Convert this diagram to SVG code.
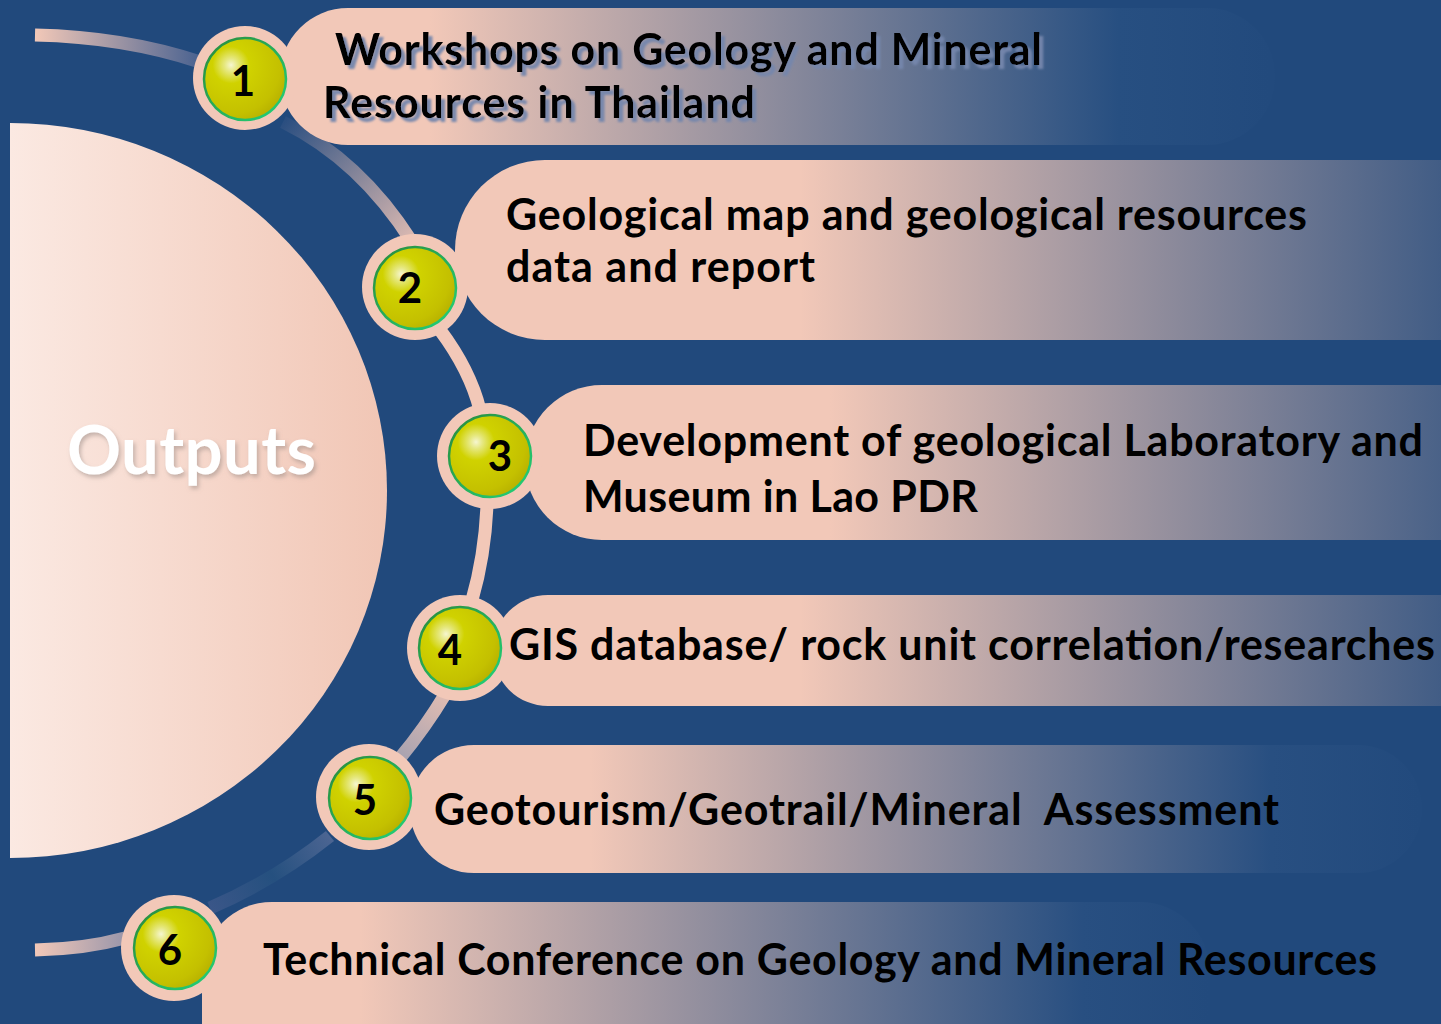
<svg xmlns="http://www.w3.org/2000/svg" width="1441" height="1024" viewBox="0 0 1441 1024">
<defs>
<style>
.t{font-family:Lato,"Open Sans","Liberation Sans",sans-serif;font-weight:bold;font-size:43px;fill:#000;}
.n{font-family:Lato,"Open Sans","Liberation Sans",sans-serif;font-weight:bold;font-size:42px;fill:#000;text-anchor:middle;}
.ring{fill:#f2c8b8;}
.ball{fill:url(#ballG);stroke:url(#ballS);stroke-width:2.5;}
.seg{fill:none;stroke-width:13;stroke-linecap:butt;}
</style>
<linearGradient id="halfG" x1="0" y1="0" x2="1" y2="0">
<stop offset="0" stop-color="#fbe9e2"/><stop offset="1" stop-color="#f1c6b5"/>
</linearGradient>
<radialGradient id="ballG" cx="0.33" cy="0.33" r="0.8">
<stop offset="0" stop-color="#f6f6d0"/><stop offset="0.1" stop-color="#e6e880"/><stop offset="0.28" stop-color="#d0d200"/><stop offset="0.75" stop-color="#c4c000"/><stop offset="0.92" stop-color="#b8b200"/><stop offset="1" stop-color="#a09a00"/>
</radialGradient>
<linearGradient id="ballS" x1="0" y1="0" x2="1" y2="1">
<stop offset="0" stop-color="#2a8a3c"/><stop offset="1" stop-color="#22d27a"/>
</linearGradient>
<linearGradient id="b1" gradientUnits="userSpaceOnUse" x1="430" y1="0" x2="1270" y2="0">
<stop offset="0" stop-color="#f2c8b8"/><stop offset="0.82" stop-color="#274f81"/><stop offset="1" stop-color="#224a7d"/>
</linearGradient>
<linearGradient id="b2" gradientUnits="userSpaceOnUse" x1="800" y1="0" x2="1560" y2="0">
<stop offset="0" stop-color="#f2c8b8"/><stop offset="1" stop-color="#21497c"/>
</linearGradient>
<linearGradient id="b3" gradientUnits="userSpaceOnUse" x1="830" y1="0" x2="1590" y2="0">
<stop offset="0" stop-color="#f2c8b8"/><stop offset="1" stop-color="#21497c"/>
</linearGradient>
<linearGradient id="b4" gradientUnits="userSpaceOnUse" x1="800" y1="0" x2="1560" y2="0">
<stop offset="0" stop-color="#f2c8b8"/><stop offset="1" stop-color="#21497c"/>
</linearGradient>
<linearGradient id="b5" gradientUnits="userSpaceOnUse" x1="590" y1="0" x2="1420" y2="0">
<stop offset="0" stop-color="#f2c8b8"/><stop offset="0.82" stop-color="#284f81"/><stop offset="1" stop-color="#224a7d"/>
</linearGradient>
<linearGradient id="b6" gradientUnits="userSpaceOnUse" x1="360" y1="0" x2="1210" y2="0">
<stop offset="0" stop-color="#f2c8b8"/><stop offset="0.85" stop-color="#284f81"/><stop offset="1" stop-color="#224a7d"/>
</linearGradient>
<linearGradient id="sA" gradientUnits="userSpaceOnUse" x1="35" y1="0" x2="200" y2="0">
<stop offset="0" stop-color="#f2c8b8"/><stop offset="1" stop-color="#4a6290"/>
</linearGradient>
<linearGradient id="sB" gradientUnits="userSpaceOnUse" x1="285" y1="120" x2="412" y2="240">
<stop offset="0" stop-color="#2a4e80"/><stop offset="1" stop-color="#dcbab2"/>
</linearGradient>
<linearGradient id="sE" gradientUnits="userSpaceOnUse" x1="445" y1="695" x2="400" y2="758">
<stop offset="0" stop-color="#e0bcb2"/><stop offset="1" stop-color="#a8a2b0"/>
</linearGradient>
<linearGradient id="sF" gradientUnits="userSpaceOnUse" x1="330" y1="835" x2="210" y2="908">
<stop offset="0" stop-color="#4c6592"/><stop offset="0.5" stop-color="#25507f"/><stop offset="1" stop-color="#3a5688"/>
</linearGradient>
<linearGradient id="sG" gradientUnits="userSpaceOnUse" x1="35" y1="0" x2="125" y2="0">
<stop offset="0" stop-color="#f2c8b8"/><stop offset="1" stop-color="#9a96aa"/>
</linearGradient>
<filter id="sh1" x="-5%" y="-20%" width="110%" height="150%">
<feDropShadow dx="4" dy="4" stdDeviation="1" flood-color="#7586ac" flood-opacity="0.95"/>
</filter>
<filter id="sh2" x="-10%" y="-20%" width="120%" height="150%">
<feDropShadow dx="2" dy="3" stdDeviation="2" flood-color="#9a8a86" flood-opacity="0.55"/>
</filter>
</defs>
<rect x="0" y="0" width="1441" height="1024" fill="#21497c"/>

<g id="outputs">
<path d="M10,123 A377,367.5 0 0 1 10,858 Z" fill="url(#halfG)"/>
<text x="67" y="474" font-family="Lato,'Open Sans','Liberation Sans',sans-serif" font-weight="bold" font-size="67" fill="#ffffff" textLength="249" filter="url(#sh2)">Outputs</text>
</g>

<g id="connectors">
<path class="seg" stroke="url(#sA)" d="M35,35 Q125,37 200,62"/>
<path class="seg" stroke="url(#sB)" d="M283,122 Q360,160 412,242"/>
<path class="seg" stroke="#f2c8b8" d="M440,330 Q470,370 480,410"/>
<path class="seg" stroke="#f2c8b8" d="M487,505 Q485,555 472,600"/>
<path class="seg" stroke="url(#sE)" d="M446,693 Q425,728 400,758"/>
<path class="seg" stroke="url(#sF)" d="M330,836 Q275,880 210,908"/>
<path class="seg" stroke="url(#sG)" d="M35,950 Q85,949 125,938"/>
</g>

<g id="node1">
<rect x="280" y="8" width="995" height="137" rx="68" fill="url(#b1)"/>
<circle class="ring" cx="245" cy="78" r="52"/>
<circle class="ball" cx="245" cy="79" r="41"/>
<text class="n" x="243" y="96">1</text>
<g filter="url(#sh1)">
<text class="t" x="335" y="65" textLength="707">Workshops on Geology and Mineral</text>
<text class="t" x="323" y="118" textLength="432">Resources in Thailand</text>
</g>
</g>

<g id="node2">
<rect x="455" y="160" width="1100" height="180" rx="90" fill="url(#b2)"/>
<circle class="ring" cx="415" cy="287" r="53"/>
<circle class="ball" cx="415" cy="288" r="41"/>
<text class="n" x="410" y="303">2</text>
<text class="t" x="506" y="230" textLength="801">Geological map and geological resources</text>
<text class="t" x="506" y="282" textLength="309">data and report</text>
</g>

<g id="node3">
<rect x="525" y="385" width="1000" height="155" rx="77" fill="url(#b3)"/>
<circle class="ring" cx="490" cy="456" r="53"/>
<circle class="ball" cx="490" cy="456" r="41"/>
<text class="n" x="500" y="471">3</text>
<text class="t" x="583" y="456" textLength="840">Development of geological Laboratory and</text>
<text class="t" x="583" y="512" textLength="395">Museum in Lao PDR</text>
</g>

<g id="node4">
<rect x="493" y="595" width="1000" height="111" rx="55" fill="url(#b4)"/>
<circle class="ring" cx="460" cy="648" r="53"/>
<circle class="ball" cx="460" cy="648" r="41"/>
<text class="n" x="450" y="665">4</text>
<text class="t" x="509" y="660" textLength="926">GIS database/ rock unit correlation/researches</text>
</g>

<g id="node5">
<rect x="410" y="745" width="1012" height="128" rx="64" fill="url(#b5)"/>
<circle class="ring" cx="369" cy="797" r="53"/>
<circle class="ball" cx="370" cy="798" r="41"/>
<text class="n" x="365" y="815">5</text>
<text class="t" x="434" y="825" textLength="845" style="white-space:pre">Geotourism/Geotrail/Mineral  Assessment</text>
</g>

<g id="node6">
<rect x="202" y="902" width="1008" height="200" rx="70" fill="url(#b6)"/>
<circle class="ring" cx="174" cy="948" r="53"/>
<circle class="ball" cx="175" cy="948" r="41"/>
<text class="n" x="170" y="965">6</text>
<text class="t" x="263" y="975" textLength="1114">Technical Conference on Geology and Mineral Resources</text>
</g>
</svg>
